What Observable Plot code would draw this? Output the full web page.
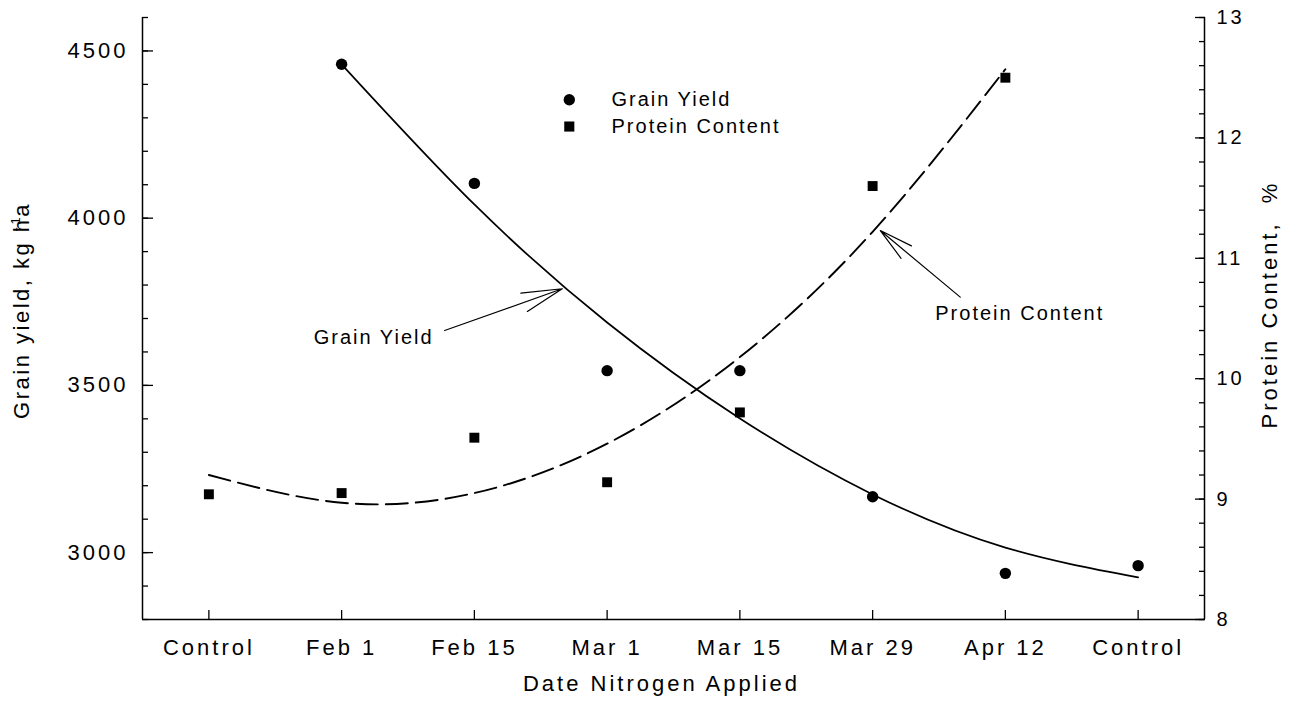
<!DOCTYPE html>
<html>
<head>
<meta charset="utf-8">
<script src="https://cdn.jsdelivr.net/npm/d3@7"></script>
<script src="https://cdn.jsdelivr.net/npm/@observablehq/plot@0.6"></script>
<style>
  body { margin: 0; background: #fff; }
  #chart svg { font-family: "Liberation Sans", Arial, sans-serif; display: block; }
</style>
</head>
<body>
<div id="chart"></div>
<script>
// ---- data ----
const dates = ["Control", "Feb 1", "Feb 15", "Mar 1", "Mar 15", "Mar 29", "Apr 12", "Control"];
const grainYield = [null, 4460, 4104, 3544, 3544, 3167, 2938, 2961];          // kg ha-1
const proteinContent = [9.04, 9.05, 9.51, 9.14, 9.72, 11.60, 12.50, null];    // %
const yieldFit = [null, 4460, 4041, 3688, 3401, 3174, 3015, 2926];            // fitted curve (solid)
const proteinFit = [9.20, 8.97, 9.05, 9.46, 10.18, 11.22, 12.57, null];       // fitted curve (dashed)
const yieldTicks = [3000, 3500, 4000, 4500];
const proteinTicks = [8, 9, 10, 11, 12, 13];
const yieldDomain = [2800, 4600];
const proteinDomain = [8, 13];

const legendItems = [
  {label: "Grain Yield", symbol: "circle", x: 2.715, y: 4354, tx: 3.033},
  {label: "Protein Content", symbol: "square", x: 2.715, y: 4274, tx: 3.033}
];
const notes = [
  {label: "Grain Yield", x: 0.79, y: 3643, x1: 1.776, y1: 3664, x2: 2.662, y2: 3789},
  {label: "Protein Content", x: 5.472, y: 3715, x1: 5.660, y1: 3764, x2: 5.058, y2: 3963}
];

// map protein (right axis) onto the yield (left axis) scale
const toY = p => (p == null ? NaN :
  yieldDomain[0] + (p - proteinDomain[0]) * (yieldDomain[1] - yieldDomain[0]) / (proteinDomain[1] - proteinDomain[0]));
const fromY = v => proteinDomain[0] + (v - yieldDomain[0]) * (proteinDomain[1] - proteinDomain[0]) / (yieldDomain[1] - yieldDomain[0]);

const rows = dates.map((date, i) => ({
  i, date,
  grain: grainYield[i] == null ? NaN : grainYield[i],
  protein: toY(proteinContent[i]),
  grainFit: yieldFit[i] == null ? NaN : yieldFit[i],
  proteinFit: toY(proteinFit[i])
}));

const idx = d3.range(dates.length);
const minorLeft = d3.range(yieldDomain[0], yieldDomain[1] + 1, 100);
const minorRight = d3.range(0, 26).map(k => toY(proteinDomain[0] + k * 0.2));

const chart = Plot.plot({
  width: 1292,
  height: 709,
  marginLeft: 142,
  marginRight: 88,
  marginTop: 17,
  marginBottom: 90,
  style: {fontSize: "22px", color: "#000", background: "#fff"},
  x: {domain: [-0.5, 7.5]},
  y: {domain: yieldDomain},
  marks: [
    // frame (left, right, bottom)
    Plot.ruleX([-0.5], {stroke: "#000", strokeWidth: 1.5}),
    Plot.ruleX([7.5], {stroke: "#000", strokeWidth: 1.5}),
    Plot.ruleY([yieldDomain[0]], {stroke: "#000", strokeWidth: 1.5}),
    // left axis ticks (inward)
    Plot.axisY(minorLeft, {anchor: "left", tickSize: -6, tickFormat: () => "", label: null, strokeWidth: 1.3}),
    Plot.axisY(yieldTicks, {anchor: "left", tickSize: -11, tickFormat: () => "", label: null, strokeWidth: 1.3}),
    Plot.axisY(yieldTicks, {anchor: "left", tickSize: 0, tickPadding: 14, label: null, fontSize: 22, tickFormat: d => String(d)}),
    // right axis ticks (inward)
    Plot.axisY(minorRight, {anchor: "right", tickSize: -6, tickFormat: () => "", label: null, strokeWidth: 1.3}),
    Plot.axisY(proteinTicks.map(toY), {anchor: "right", tickSize: -10, tickFormat: () => "", label: null, strokeWidth: 1.3}),
    Plot.axisY(proteinTicks.map(toY), {anchor: "right", tickSize: 0, tickPadding: 12, label: null, fontSize: 20,
      tickFormat: v => String(Math.round(fromY(v)))}),
    // bottom axis
    Plot.axisX(idx, {anchor: "bottom", tickSize: -9, tickFormat: () => "", label: null, strokeWidth: 1.3}),
    Plot.axisX(idx, {anchor: "bottom", tickSize: 0, tickPadding: 20, label: null, fontSize: 22, tickFormat: i => dates[i]}),
    // fitted curves
    Plot.line(rows, {x: "i", y: "grainFit", curve: "natural", stroke: "#000", strokeWidth: 1.7}),
    Plot.line(rows, {x: "i", y: "proteinFit", curve: "natural", stroke: "#000", strokeWidth: 1.9, strokeDasharray: "22,8"}),
    // observations
    Plot.dot(rows, {x: "i", y: "grain", r: 5.7, fill: "#000", stroke: null, symbol: "circle"}),
    Plot.dot(rows, {x: "i", y: "protein", r: 5.6, fill: "#000", stroke: null, symbol: "square"}),
    // legend
    Plot.dot(legendItems, {x: "x", y: "y", r: 5.7, fill: "#000", stroke: null, symbol: "symbol"}),
    Plot.text(legendItems, {x: "tx", y: "y", text: "label", textAnchor: "start", fontSize: 20, fill: "#000", ariaDescription: "legend"}),
    // annotations
    Plot.arrow(notes, {x1: "x1", y1: "y1", x2: "x2", y2: "y2", headAngle: 27, headLength: 60, stroke: "#000", strokeWidth: 1.2}),
    Plot.text(notes, {x: "x", y: "y", text: "label", textAnchor: "start", fontSize: 20, fill: "#000", ariaDescription: "note"}),
    // axis titles
    Plot.text(["Date Nitrogen Applied"], {frameAnchor: "bottom", textAnchor: "middle", dx: -12, dy: 71, fontSize: 22, fill: "#000", ariaDescription: "xtitle"}),
    Plot.text(["Grain yield, kg ha"], {frameAnchor: "left", textAnchor: "middle", dx: -121, dy: -8, rotate: -90, fontSize: 22, fill: "#000", ariaDescription: "ytitle"}),
    Plot.text(["Protein Content,  %"], {frameAnchor: "right", textAnchor: "middle", dx: 65, dy: -14, rotate: -90, fontSize: 22, fill: "#000", ariaDescription: "rtitle"})
  ]
});

document.getElementById("chart").appendChild(chart);

// typography: letter spacing like the original
const svg = d3.select(chart);
svg.selectAll("text").style("letter-spacing", "3px");
svg.selectAll('g[aria-description="legend"] text, g[aria-description="note"] text').style("letter-spacing", "2px");
svg.selectAll('g[aria-description="ytitle"] text').style("letter-spacing", "2.5px");
svg.selectAll('g[aria-description="rtitle"] text').style("letter-spacing", "3px");

// superscript "-1" on the y title (overlapping the h, as in the original)
svg.selectAll('g[aria-description="ytitle"] text').each(function () {
  const t = d3.select(this);
  t.text("Grain yield, kg h");
  t.append("tspan").attr("dx", -14).attr("dy", -9).style("font-size", "13px").text("-1");
  t.append("tspan").attr("dx", -2).attr("dy", 9).text("a");
});
</script>
</body>
</html>
